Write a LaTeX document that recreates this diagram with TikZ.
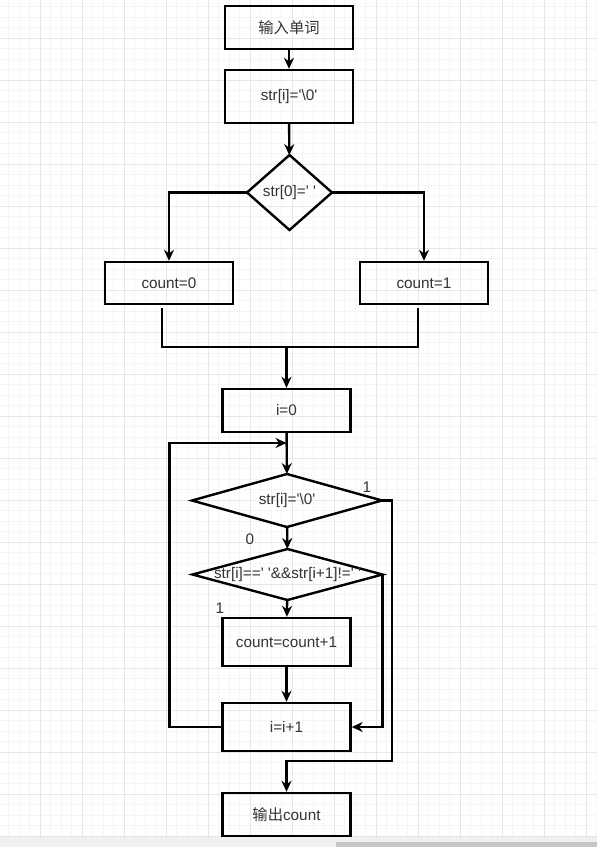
\documentclass[tikz,border=0pt]{standalone}
\usepackage{fontspec}
\setmainfont{Liberation Sans}[Ligatures=TeXOff]
\newfontfamily\cjk{Noto Sans CJK SC}
\usetikzlibrary{shapes.geometric,arrows.meta}
\definecolor{gridminor}{HTML}{F5F5F5}
\definecolor{gridmajor}{HTML}{E7E7E7}
\definecolor{txt}{HTML}{333333}

\begin{document}
\begin{tikzpicture}[x=1pt,y=-1pt,font=\fontsize{15.3}{18}\selectfont,text=txt]
        \tikzset{box/.style = {draw,line width=2.4pt,minimum width=128pt,minimum height=43pt,inner sep=0pt},
                 dia/.style = {draw,diamond,line width=2.4pt,inner sep=0pt,outer sep=0pt},
                 arr/.style = {line width=2.4pt,-{Stealth[length=11pt,width=10pt]}},
                 lin/.style = {line width=2.4pt}}
        \useasboundingbox (0,0) rectangle (597,847);
        % grid
        \foreach \x in {8.5,19,...,597} \draw[gridminor,line width=0.8pt] (\x,0) -- (\x,847);
        \foreach \y in {6.5,17,...,847} \draw[gridminor,line width=0.8pt] (0,\y) -- (597,\y);
        \foreach \x in {40,82,...,597} \draw[gridmajor,line width=0.8pt] (\x,0) -- (\x,847);
        \foreach \y in {38,80,...,847} \draw[gridmajor,line width=0.8pt] (0,\y) -- (597,\y);
        \fill[gray!12] (0,837) rectangle (597,847);
        \fill[gray!45] (336,842) rectangle (597,847);
        % nodes
        \node[box] (in) at (289,27.5) {\cjk 输入单词};
        \node[box,minimum height=53pt] (s0) at (289,96.5) {str[i]='\textbackslash0'};
        \node[dia,minimum width=85pt,minimum height=75pt,label=center:{str[0]=' '}] (d1) at (289.5,192.5) {};
        \node[box,minimum height=42pt] (c0) at (169,283) {count=0};
        \node[box,minimum height=42pt] (c1) at (424,283) {count=1};
        \node[box] (i0) at (286.5,410.5) {i=0};
        \node[dia,minimum width=190pt,minimum height=53pt,label=center:{str[i]='\textbackslash0'}] (d2) at (287,500.5) {};
        \node[dia,minimum width=190pt,minimum height=51pt,label=center:{str[i]==' '\&\&str[i+1]!=' '}] (d3) at (287.5,574.5) {};
        \node[box,minimum height=48pt] (cc) at (286.5,642) {count=count+1};
        \node[box,minimum height=48pt] (ii) at (286.5,727) {i=i+1};
        \node[box] (out) at (286.5,814.5) {{\cjk 输出}count};
        \node (l1) at (367,487) {1};
        \node (l0) at (250,539) {0};
        \node (l2) at (220,608) {1};
        \coordinate (m) at (286.5,347);
        \coordinate (j) at (286.5,443);
        \coordinate (k) at (392,761);
        % connectors
        \draw[arr] (in) -- (s0);
        \draw[arr] (s0) -- (d1);
        \draw[arr] (d1.west) -| (c0);
        \draw[arr] (d1.east) -| (c1);
        \draw[lin] ([shift={(-7,3)}]c0.south) |- (m) -| ([shift={(-6,3)}]c1.south);
        \draw[arr] (m) -- (i0);
        \draw[arr] (i0) -- (d2);
        \draw[arr] (d2) -- (d3);
        \draw[arr] (d3) -- (cc);
        \draw[arr] (cc) -- (ii);
        \draw[arr] (ii.west) -- ++(-52,0) |- (j);
        \draw[arr] (d3.east) |- (ii.east);
        \draw[arr] (d2.east) -| (k) -| (out);
\end{tikzpicture}
\end{document}
